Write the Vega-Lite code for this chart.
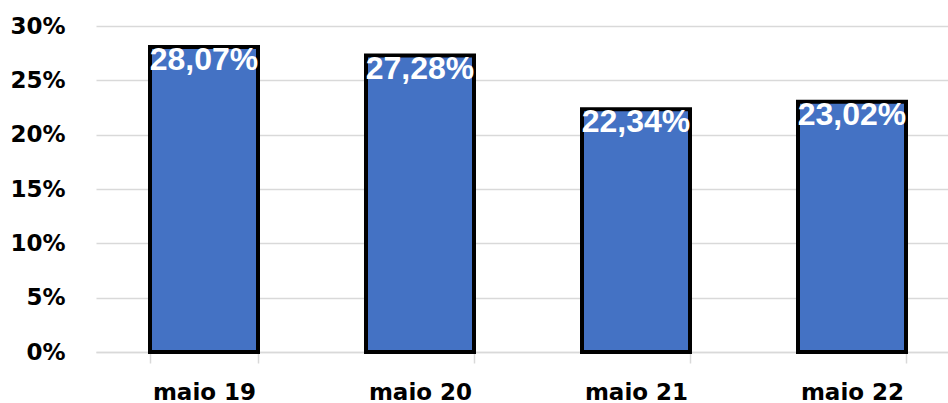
{
  "$schema": "https://vega.github.io/schema/vega-lite/v6.json",
  "width": 852,
  "height": 326,
  "autosize": {"type": "none"},
  "padding": {"left": 96, "top": 26, "right": 0, "bottom": 51},
  "background": "white",
  "config": {
    "view": {"stroke": null},
    "locale": {"number": {"decimal": ",", "thousands": ".", "grouping": [3], "currency": ["", " €"]}}
  },
  "data": {
    "values": [
      {"mes": "maio 19", "valor": 0.2807},
      {"mes": "maio 20", "valor": 0.2728},
      {"mes": "maio 21", "valor": 0.2234},
      {"mes": "maio 22", "valor": 0.2302}
    ]
  },
  "encoding": {
    "x": {
      "field": "mes",
      "type": "nominal",
      "sort": null,
      "scale": {"range": [0, 864], "paddingInner": 0.5, "paddingOuter": 0.25},
      "axis": {
        "title": null,
        "labelAngle": 0,
        "labelFont": "DejaVu Sans",
        "labelFontWeight": "bold",
        "labelFontSize": 23,
        "labelColor": "#000000",
        "labelPadding": 18,
        "domainColor": "#d9d9d9",
        "domainWidth": 1.5,
        "tickColor": "#d9d9d9",
        "tickWidth": 1.5,
        "tickSize": 11,
        "tickBand": "extent",
        "grid": false
      }
    },
    "y": {
      "field": "valor",
      "type": "quantitative",
      "scale": {"domain": [0, 0.3], "nice": false},
      "axis": {
        "title": null,
        "format": ".0%",
        "values": [0, 0.05, 0.1, 0.15, 0.2, 0.25, 0.3],
        "labelFont": "DejaVu Sans",
        "labelFontWeight": "bold",
        "labelFontSize": 23,
        "labelColor": "#000000",
        "labelPadding": 31,
        "domain": false,
        "ticks": false,
        "grid": true,
        "gridColor": "#d9d9d9",
        "gridWidth": 1.5
      }
    }
  },
  "layer": [
    {
      "mark": {"type": "bar", "color": "#4472C4", "stroke": "#000000", "strokeWidth": 4}
    },
    {
      "mark": {
        "type": "text",
        "color": "#ffffff",
        "font": "Liberation Sans",
        "fontWeight": "bold",
        "fontSize": 32,
        "baseline": "alphabetic",
        "align": "center",
        "dy": 23
      },
      "encoding": {
        "text": {"field": "valor", "type": "quantitative", "format": ".2%"}
      }
    }
  ]
}
